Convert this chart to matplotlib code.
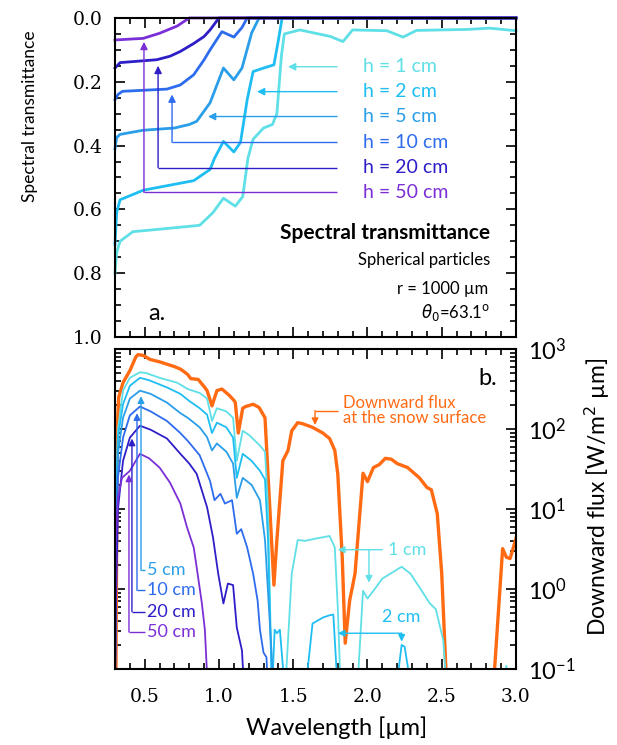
"""Transmitancia espectral (a) y flujo descendente (b) en nieve de particulas esfericas."""

import math

import matplotlib
matplotlib.use("Agg")
import matplotlib.pyplot as plt
from matplotlib.ticker import MultipleLocator, LogLocator, FuncFormatter, NullFormatter

plt.rcParams["font.family"] = ["Lato", "DejaVu Sans"]

# ---- panel a: transmitancia (eje invertido) ----
depths = ["1", "2", "5", "10", "20", "50"]
colors = ["#5fdfe6", "#1fbef2", "#2a9ee8", "#2e6cee", "#2e1ec8", "#7b2fd6"]

wl_t1 = [0.30, 0.311, 0.334, 0.42, 0.65, 0.87, 0.96, 1.03, 1.11, 1.16, 1.195, 1.23, 1.30, 1.36,
         1.39, 1.42, 1.44, 1.545, 1.75, 1.835, 1.90, 2.13, 2.24, 2.33, 2.67, 2.82, 3.0]
tr_1 = [0.80, 0.735, 0.70, 0.67, 0.66, 0.65, 0.61, 0.565, 0.59, 0.56, 0.44, 0.38, 0.345, 0.334,
        0.30, 0.12, 0.05, 0.0375, 0.058, 0.074, 0.0375, 0.04, 0.06, 0.039, 0.036, 0.032, 0.04]
wl_t2 = [0.30, 0.311, 0.334, 0.49, 0.83, 0.94, 0.97, 1.03, 1.10, 1.145, 1.19, 1.23, 1.30, 1.37,
         1.40, 1.425, 3.0]
tr_2 = [0.71, 0.61, 0.57, 0.54, 0.51, 0.475, 0.44, 0.387, 0.42, 0.39, 0.256, 0.168, 0.157, 0.147,
        0.07, 0.0, 0.0]
wl_t5 = [0.30, 0.311, 0.334, 0.49, 0.70, 0.80, 0.85, 0.94, 1.03, 1.10, 1.155, 1.22, 1.27, 3.0]
tr_5 = [0.41, 0.375, 0.365, 0.352, 0.345, 0.334, 0.324, 0.266, 0.157, 0.194, 0.157, 0.047, 0.0, 0.0]
wl_t10 = [0.30, 0.32, 0.35, 0.65, 0.74, 0.83, 0.90, 0.94, 1.02, 1.10, 1.155, 1.19, 3.0]
tr_10 = [0.256, 0.24, 0.23, 0.223, 0.21, 0.178, 0.131, 0.10, 0.043, 0.06, 0.03, 0.0, 0.0]
wl_t20 = [0.30, 0.334, 0.58, 0.67, 0.74, 0.83, 0.90, 0.94, 1.00, 3.0]
tr_20 = [0.157, 0.14, 0.131, 0.12, 0.105, 0.08, 0.058, 0.0375, 0.0, 0.0]
wl_t50 = [0.30, 0.49, 0.60, 0.72, 0.80, 3.0]
tr_50 = [0.069, 0.064, 0.048, 0.025, 0.0, 0.0]

# flechas de panel a: y de la etiqueta, x de la punta, y de la punta
lab_y_a = [0.153, 0.231, 0.309, 0.39, 0.469, 0.547]
tip_x_a = [1.465, 1.256, 0.926, 0.684, 0.59, 0.495]
tip_y_a = [0.153, 0.231, 0.309, 0.24, 0.15, 0.075]

# ---- panel b: flujo descendente [W/m2 um] ----
wl_sfc = [0.305, 0.315, 0.325, 0.354, 0.40, 0.44, 0.455, 0.49, 0.536, 0.60, 0.65, 0.70, 0.74,
          0.77, 0.79, 0.81, 0.86, 0.90, 0.92, 0.953, 0.986, 1.02, 1.07, 1.10, 1.11, 1.13, 1.16,
          1.18, 1.23, 1.27, 1.31, 1.33, 1.37, 1.39, 1.43, 1.465, 1.49, 1.53, 1.56, 1.63, 1.70,
          1.745, 1.78, 1.80, 1.83, 1.85, 1.88, 1.916, 1.97, 2.00, 2.04, 2.08, 2.12, 2.16, 2.20,
          2.27, 2.35, 2.40, 2.43, 2.47, 2.50, 2.535, 2.845, 2.91, 2.935, 2.96, 3.0]
fx_sfc = [0.03, 100, 251, 380, 537, 794, 851, 832, 741, 692, 646, 603, 562,
          513, 479, 427, 417, 339, 302, 195, 302, 316, 263, 229, 214, 89, 182,
          191, 204, 186, 138, 27.5, 1.12, 4.1, 40, 54, 95, 120, 117, 105, 89,
          76, 54, 27.5, 2.5, 0.21, 0.72, 1.55, 28, 22, 33, 36, 43, 42, 37,
          33, 24.5, 18.6, 17.4, 8.7, 1.55, 0.05, 0.05, 3.2, 2.5, 2.4, 4.3]

wl_f1 = [0.30, 0.305, 0.32, 0.354, 0.40, 0.468, 0.51, 0.60, 0.717, 0.79, 0.87, 0.92, 0.953, 0.986,
         1.05, 1.095, 1.12, 1.16, 1.20, 1.276, 1.31, 1.33, 1.357, 1.445, 1.49, 1.53, 1.58, 1.66,
         1.745, 1.78, 1.80, 1.82, 1.93, 1.97, 2.00, 2.04, 2.10, 2.17, 2.23, 2.29, 2.35, 2.42,
         2.46, 2.51, 2.535, 2.92, 2.935, 2.95]
fx_1 = [0.05, 10, 100, 302, 437, 513, 501, 437, 380, 316, 282, 240, 126, 182,
        166, 138, 40, 95, 85, 62, 52, 10.5, 0.05, 0.05, 1.55, 4.1, 4.0, 4.3,
        4.6, 3.3, 0.59, 0.05, 0.05, 0.95, 0.76, 0.95, 1.35, 1.62, 1.9, 1.55, 1.05, 0.66,
        0.56, 0.23, 0.05, 0.05, 0.11, 0.05]
wl_f2 = [0.30, 0.305, 0.32, 0.354, 0.40, 0.468, 0.53, 0.65, 0.74, 0.80, 0.87, 0.92, 0.953, 0.986,
         1.05, 1.095, 1.12, 1.16, 1.22, 1.276, 1.31, 1.33, 1.357, 1.375, 1.39, 1.41, 1.445,
         1.58, 1.63, 1.70, 1.745, 1.77, 1.79, 1.80, 2.19, 2.23, 2.25, 2.30]
fx_2 = [0.05, 6, 80, 204, 347, 437, 407, 331, 275, 224, 182, 151, 89, 120,
        105, 78, 24.5, 49, 40, 30, 23.4, 4.1, 0.05, 0.31, 0.28, 0.31, 0.05,
        0.05, 0.37, 0.44, 0.47, 0.48, 0.11, 0.05, 0.05, 0.2, 0.19, 0.05]
wl_f5 = [0.30, 0.305, 0.32, 0.354, 0.40, 0.468, 0.54, 0.65, 0.74, 0.79, 0.87, 0.92, 0.953, 0.986,
         1.05, 1.095, 1.12, 1.16, 1.22, 1.276, 1.31, 1.34, 1.37]
fx_5 = [0.05, 3, 50, 138, 240, 302, 275, 214, 158, 138, 105, 79, 54, 66,
        52, 37, 13.8, 24.5, 20, 12.9, 4.1, 0.45, 0.05]
wl_f10 = [0.30, 0.305, 0.32, 0.354, 0.40, 0.468, 0.54, 0.65, 0.74, 0.79, 0.87, 0.94, 0.97, 1.01,
          1.04, 1.088, 1.12, 1.15, 1.19, 1.23, 1.26, 1.276, 1.30, 1.32, 1.33]
fx_10 = [0.05, 1.6, 25, 78, 148, 191, 166, 126, 89, 71, 47, 22.4, 12.9, 15.5,
         11.7, 12.9, 4.9, 5.6, 3.3, 1.55, 0.72, 0.31, 0.16, 0.14, 0.05]
wl_f20 = [0.30, 0.305, 0.32, 0.354, 0.40, 0.468, 0.54, 0.65, 0.74, 0.80, 0.85, 0.92, 0.96, 0.995,
          1.03, 1.06, 1.095, 1.12, 1.155, 1.17]
fx_20 = [0.05, 0.5, 10, 40, 78, 110, 98, 76, 49, 37, 27.5, 10.5, 4.4, 1.55,
         0.66, 1.17, 1.12, 0.33, 0.17, 0.05]
wl_f50 = [0.30, 0.305, 0.32, 0.347, 0.40, 0.468, 0.53, 0.60, 0.67, 0.74, 0.785, 0.83, 0.85, 0.885,
          0.905, 0.926]
fx_50 = [0.05, 4, 13.8, 24.5, 30, 49, 43, 33, 21.4, 11.7, 5.9, 3.3, 1.86, 0.66, 0.31, 0.05]

# flechas izquierdas de panel b (5, 10, 20, 50 cm)
left_labels = ["5 cm", "10 cm", "20 cm", "50 cm"]
left_col_x = [0.475, 0.448, 0.414, 0.394]
left_text_y = [1.71, 0.96, 0.52, 0.29]
left_tip_y = [257, 158, 76, 27]

xticks = [0.5, 1.0, 1.5, 2.0, 2.5, 3.0]
ytick_a = [0.0, 0.2, 0.4, 0.6, 0.8, 1.0]

SERIF = "DejaVu Serif"


def arrow(ax, xs, ys, color, lw=1.0, ms=11):
    """Polilinea con punta de flecha en el ultimo punto."""
    if len(xs) > 2:
        ax.plot(xs[:-1], ys[:-1], color=color, lw=lw, solid_capstyle="butt")
    ax.annotate("", xy=(xs[-1], ys[-1]), xytext=(xs[-2], ys[-2]),
                arrowprops=dict(arrowstyle="-|>", color=color, lw=lw,
                                mutation_scale=ms, shrinkA=0, shrinkB=0))


def style(ax):
    ax.set_xlim(0.3, 3.0)
    ax.xaxis.set_major_locator(MultipleLocator(0.5))
    ax.xaxis.set_minor_locator(MultipleLocator(0.1))
    ax.tick_params(which="both", direction="in", top=True, right=True, width=1.2)
    ax.tick_params(which="major", length=7)
    ax.tick_params(which="minor", length=4)
    for s in ax.spines.values():
        s.set_linewidth(1.5)


def main() -> None:
    fig = plt.figure(figsize=(6.17, 7.45), dpi=100)
    ax1 = fig.add_axes([0.1864, 0.5477, 0.6499, 0.4282])
    ax2 = fig.add_axes([0.1864, 0.1020, 0.6499, 0.4295])

    # ---- a ----
    wls = [wl_t1, wl_t2, wl_t5, wl_t10, wl_t20, wl_t50]
    trs = [tr_1, tr_2, tr_5, tr_10, tr_20, tr_50]
    for wl, tr, c in zip(wls, trs, colors):
        ax1.plot(wl, tr, color=c, lw=2.0, clip_on=False)
    for i, (d, c) in enumerate(zip(depths, colors)):
        y = lab_y_a[i]
        if i < 3:
            arrow(ax1, [1.795, tip_x_a[i]], [y, tip_y_a[i]], c)
        else:
            arrow(ax1, [1.795, tip_x_a[i], tip_x_a[i]], [y, y, tip_y_a[i]], c)
        ax1.text(1.97, y, f"h = {d} cm", color=c, fontsize=14, va="center", ha="left")

    style(ax1)
    ax1.set_ylim(1.0, 0.0)
    ax1.yaxis.set_minor_locator(MultipleLocator(0.05))
    ax1.set_yticks(ytick_a, [f"{v:.1f}" for v in ytick_a], fontfamily=SERIF, fontsize=13.5)
    ax1.tick_params(axis="y", which="major", pad=9)
    ax1.tick_params(axis="x", labelbottom=False)

    ax1.text(0.935, 0.326, "Spectral transmittance", transform=ax1.transAxes, ha="right",
             va="center", fontsize=15, fontweight="bold")
    ax1.text(0.935, 0.241, "Spherical particles", transform=ax1.transAxes, ha="right",
             va="center", fontsize=12)
    ax1.text(0.93, 0.150, "r = 1000 µm", transform=ax1.transAxes, ha="right",
             va="center", fontsize=12)
    ax1.text(0.935, 0.078, r"$\theta_0$=63.1$^{\rm o}$", transform=ax1.transAxes, ha="right",
             va="center", fontsize=12)
    ax1.text(0.082, 0.075, "a.", transform=ax1.transAxes, ha="left", va="center", fontsize=17)

    # ---- b ----
    ax2.set_yscale("log")
    ax2.plot(wl_sfc, fx_sfc, color="#ff6a13", lw=2.4)
    fwl = [wl_f1, wl_f2, wl_f5, wl_f10, wl_f20, wl_f50]
    ffx = [fx_1, fx_2, fx_5, fx_10, fx_20, fx_50]
    for wl, fx, c in zip(fwl, ffx, colors):
        ax2.plot(wl, fx, color=c, lw=1.3)

    for i in range(4):
        c = colors[i + 2]
        xc = left_col_x[i]
        yt = left_text_y[i]
        arrow(ax2, [0.50, xc, xc], [yt, yt, left_tip_y[i]], c, ms=10)
        ax2.text(0.515, yt, left_labels[i], color=c, fontsize=13, va="center", ha="left")

    # 1 cm y 2 cm a la derecha
    arrow(ax2, [2.10, 1.80], [3.1, 3.1], colors[0], ms=10)
    arrow(ax2, [2.01, 2.01], [3.1, 1.2], colors[0], ms=10)
    ax2.text(2.14, 3.1, "1 cm", color=colors[0], fontsize=13, va="center", ha="left")
    arrow(ax2, [2.23, 1.80], [0.28, 0.28], colors[1], ms=10)
    arrow(ax2, [2.23, 2.23], [0.28, 0.22], colors[1], ms=10)
    ax2.text(2.23, 0.45, "2 cm", color=colors[1], fontsize=13, va="center", ha="center")

    # superficie
    arrow(ax2, [1.80, 1.647, 1.647], [170, 170, 112], "#ff6a13", ms=10)
    ax2.text(1.835, 170, "Downward flux\nat the snow surface", color="#ff6a13", fontsize=12,
             va="center", ha="left", linespacing=0.95)
    ax2.text(0.905, 0.909, "b.", transform=ax2.transAxes, ha="left", va="center", fontsize=17)

    style(ax2)
    ax2.set_ylim(0.1, 1000)
    ax2.yaxis.set_major_locator(LogLocator(base=10))
    ax2.yaxis.set_minor_locator(LogLocator(base=10, subs=range(2, 10)))
    ax2.yaxis.set_major_formatter(
        FuncFormatter(lambda v, _: r"$\mathdefault{10^{%d}}$" % round(math.log10(v))))
    ax2.yaxis.set_minor_formatter(NullFormatter())
    ax2.tick_params(axis="y", which="both", labelleft=False, labelright=True, labelsize=17, pad=9)
    ax2.set_xticks(xticks, [f"{v:.1f}" for v in xticks], fontfamily=SERIF, fontsize=13.5)
    ax2.tick_params(axis="x", which="major", pad=14)

    fig.text(0.049, 0.844, "Spectral transmittance", rotation=90, ha="center", va="center",
             fontsize=12.5)
    fig.text(0.546, 0.023, "Wavelength [µm]", ha="center", va="center", fontsize=17)
    fig.text(0.968, 0.333, "Downward flux [W/m$^2$ µm]", rotation=90, ha="center",
             va="center", fontsize=16.5)

    fig.savefig("out.png", dpi=100, facecolor="white")


if __name__ == "__main__":
    main()
